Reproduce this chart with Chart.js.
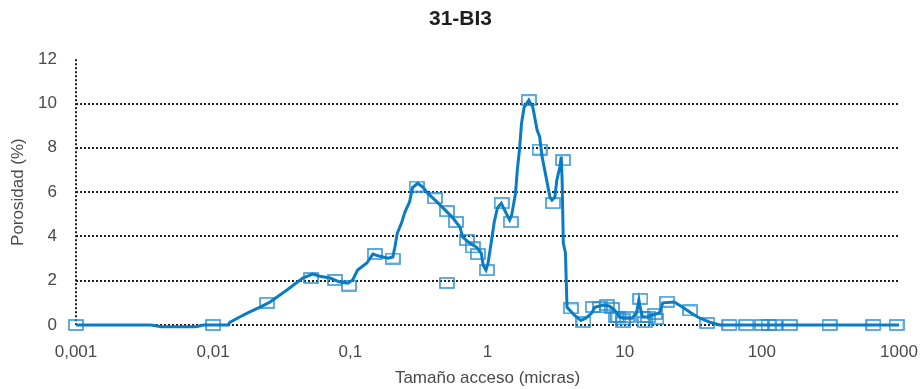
<!DOCTYPE html>
<html lang="es">
<head>
  <meta charset="UTF-8">
  <title>31-BI3</title>
  <script src="https://cdn.jsdelivr.net/npm/chart.js"></script>
  <style>
    html, body { margin: 0; padding: 0; background: #ffffff; }
    .grafico { position: relative; width: 921px; height: 389px; }
  </style>
</head>
<body>
  <div class="grafico"><canvas id="porosidad"></canvas></div>

  <script>
    // Curva de porosidad (tamaño de acceso en micras, porosidad en %)
    const curvaX = [0.001, 0.0035, 0.0042, 0.0075, 0.0085, 0.0128, 0.0133, 0.0156, 0.0185, 0.022, 0.026,
      0.0345, 0.045, 0.053, 0.06, 0.071, 0.084, 0.096, 0.104, 0.113, 0.132, 0.146, 0.164, 0.188, 0.204,
      0.211, 0.22, 0.236, 0.25, 0.27, 0.284, 0.31, 0.34, 0.366, 0.43, 0.49, 0.56, 0.63, 0.66, 0.74, 0.83,
      0.9, 0.93, 0.975, 1.01, 1.07, 1.12, 1.18, 1.26, 1.33, 1.45, 1.5, 1.6, 1.65, 1.71, 1.77, 1.85, 2.0,
      2.14, 2.3, 2.4, 2.5, 2.7, 2.85, 2.95, 3.1, 3.2, 3.36, 3.45, 3.5, 3.57, 3.7, 3.8, 4.3, 4.8, 5.2,
      5.75, 6.05, 7.0, 7.7, 8.4, 9.2, 9.8, 11.3, 12.2, 12.7, 13.0, 13.5, 14.6, 16.0, 17.9, 19.0, 23.0,
      26.5, 30.5, 34, 41.6, 49.6, 1000];
    const curvaY = [0, 0, -0.08, -0.08, 0, 0, 0.13, 0.36, 0.59, 0.81, 1.04,
      1.58, 2.12, 2.3, 2.2, 2.12, 1.94, 1.89, 2.03, 2.48, 2.8, 3.2, 3.1, 3.02, 3.07,
      3.5, 4.15, 4.6, 5.1, 5.55, 6.2, 6.4, 6.2, 5.95, 5.55, 5.2, 4.83, 4.42, 3.97, 3.7, 3.52,
      3.25, 2.7, 2.48, 2.8, 3.83, 4.65, 5.28, 5.5, 5.2, 4.74, 4.96, 5.95, 7.0, 7.9, 9.1, 9.83, 10.15,
      9.83, 8.8, 8.5, 7.6, 6.54, 5.78, 5.64, 5.78, 6.54, 7.1, 7.6, 6.54, 3.7, 3.25, 0.8, 0.45, 0.2, 0.31,
      0.54, 0.8, 0.9, 0.86, 0.68, 0.36, 0.31, 0.31, 0.54, 1.13, 0.77, 0.36, 0.36, 0.45, 0.54, 1.0, 1.04,
      0.8, 0.54, 0.36, 0.13, 0, 0];

    // Puntos medidos (marcadores cuadrados)
    const puntosX = [0.001, 0.01, 0.0247, 0.0516, 0.0773, 0.0977, 0.151, 0.204, 0.305, 0.414, 0.506,
      0.589, 0.708, 0.783, 0.851, 0.99, 0.506, 1.27, 1.48, 2.0, 2.4, 3.0, 3.55, 4.05, 5.0, 5.86, 6.6,
      7.4, 8.07, 8.7, 9.0, 9.7, 9.8, 10.4, 13.0, 13.7, 14.0, 14.8, 16.6, 17.0, 20.4, 30, 40, 58, 77,
      100, 112, 124, 160, 312, 650, 960];
    const puntosY = [0, 0, 1.0, 2.12, 2.03, 1.78, 3.2, 3.0, 6.25, 5.72, 5.14,
      4.65, 3.83, 3.5, 3.2, 2.48, 1.9, 5.5, 4.65, 10.15, 7.92, 5.5, 7.44, 0.75, 0.13, 0.81, 0.8,
      0.9, 0.77, 0.36, 0.36, 0.25, 0.13, 0.36, 1.18, 0.36, 0.13, 0.36, 0.5, 0.27, 1.05, 0.66, 0.09, 0, 0,
      0, 0, 0, 0, 0, 0, 0];

    const ticksX = [0.001, 0.01, 0.1, 1, 10, 100, 1000];
    const ticksY = [0, 2, 4, 6, 8, 10, 12];

    const fuente = "'Liberation Sans', Arial, sans-serif";
    const gris = '#4a4a4a';
    const punteado = '#1e1e1e';

    // marcador rectangular hueco
    function marcoCuadrado() {
      const c = document.createElement('canvas');
      c.width = 16;
      c.height = 12;
      const g = c.getContext('2d');
      g.strokeStyle = 'rgba(36, 140, 210, 0.9)';
      g.lineWidth = 1.6;
      g.strokeRect(1, 1, 14, 10);
      return c;
    }

    const ctx = document.getElementById('porosidad').getContext('2d');
    new Chart(ctx, {
      type: 'scatter',
      data: {
        datasets: [
          {
            data: curvaX.map((x, i) => ({ x: x, y: curvaY[i] })),
            showLine: true,
            borderColor: '#0a7cc5',
            borderWidth: 3,
            pointRadius: 0,
            tension: 0,
            clip: false
          },
          {
            data: puntosX.map((x, i) => ({ x: x, y: puntosY[i] })),
            showLine: false,
            pointStyle: marcoCuadrado(),
            pointRadius: 8,
            clip: false
          }
        ]
      },
      options: {
        responsive: true,
        maintainAspectRatio: false,
        animation: false,
        layout: {
          padding: 0
        },
        plugins: {
          legend: { display: false },
          tooltip: { enabled: false },
          title: {
            display: true,
            text: '31-BI3',
            color: '#1e1e1e',
            font: { family: fuente, size: 21, weight: 'bold' },
            padding: { top: 7, bottom: 27 }
          }
        },
        scales: {
          x: {
            type: 'logarithmic',
            min: 0.001,
            max: 1000,
            afterBuildTicks: function(scale) {
              scale.ticks = ticksX.map(v => ({ value: v }));
            },
            afterFit: function(scale) {
              scale.height = 64;
              // margen fijo a la derecha para la etiqueta "1000"
              scale.paddingLeft = 0;
              scale.paddingRight = 22;
            },
            ticks: {
              autoSkip: false,
              maxRotation: 0,
              padding: 17,
              color: gris,
              font: { family: fuente, size: 17 },
              callback: function(value) {
                return String(value).replace('.', ',');
              }
            },
            grid: {
              drawTicks: false,
              lineWidth: 2,
              // sólo la línea del eje vertical en 0,001
              color: function(c) {
                return c.index === 0 ? punteado : 'rgba(0,0,0,0)';
              }
            },
            border: { display: false, dash: [2, 2] },
            title: {
              display: true,
              text: 'Tamaño acceso (micras)',
              color: gris,
              font: { family: fuente, size: 17 },
              padding: { top: 0, bottom: 0 }
            }
          },
          y: {
            min: 0,
            max: 12,
            afterBuildTicks: function(scale) {
              scale.ticks = ticksY.map(v => ({ value: v }));
            },
            afterFit: function(scale) {
              scale.width = 76;
            },
            ticks: {
              padding: 19,
              color: gris,
              font: { family: fuente, size: 17 }
            },
            grid: {
              drawTicks: false,
              lineWidth: 2,
              color: function(c) {
                return c.tick && c.tick.value === 12 ? 'rgba(0,0,0,0)' : punteado;
              }
            },
            border: { display: false, dash: [2, 2] },
            title: {
              display: true,
              text: 'Porosidad (%)',
              color: gris,
              font: { family: fuente, size: 17 },
              padding: { top: 8, bottom: 0 }
            }
          }
        }
      }
    });
  </script>
</body>
</html>
